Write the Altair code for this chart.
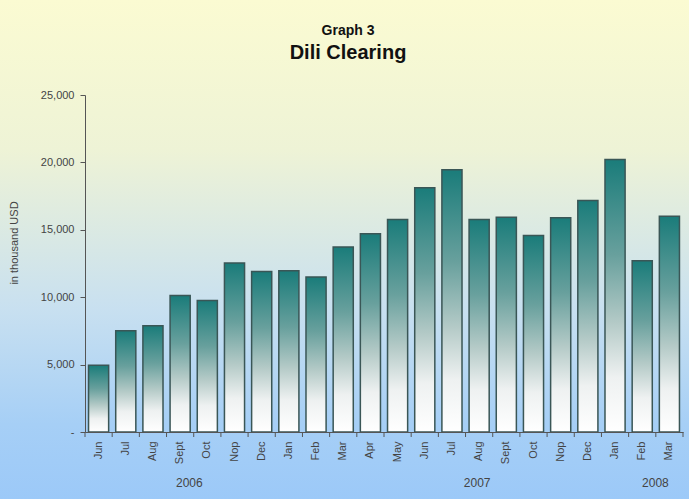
import altair as alt
import pandas as pd

months = ["Jun", "Jul", "Aug", "Sept", "Oct", "Nop", "Dec",
          "Jan", "Feb", "Mar", "Apr", "May", "Jun", "Jul", "Aug", "Sept", "Oct", "Nop", "Dec",
          "Jan", "Feb", "Mar"]
years = [2006] * 7 + [2007] * 12 + [2008] * 3
values = [4950, 7510, 7880, 10130, 9760, 12540, 11900, 11970, 11500, 13730, 14700,
          15760, 18120, 19460, 15760, 15930, 14570, 15890, 17170, 20220, 12710, 16010]

title_text = "Graph 3"
subtitle_text = "Dili Clearing"
y_title = "in thousand USD"

keys = [f"{i:02d} {m}" for i, m in enumerate(months)]
df = pd.DataFrame({"key": keys, "month": months, "year": years, "value": values})

year_labels = ["2006", "2007", "2008"]
year_anchor = [keys[4], keys[14], keys[21]]
year_shift = [-18, -2, -14]

W, H = 598, 337
AX = "#555555"
TXT = "#444444"
FONT = "Liberation Sans"

x_scale = alt.Scale(paddingInner=0, paddingOuter=0)

x_enc = alt.X("key:N", sort="ascending", scale=x_scale,
              axis=alt.Axis(title=None, labelExpr="slice(datum.value, 3)", labelAngle=270,
                            labelAlign="right", labelBaseline="middle", labelPadding=9,
                            ticks=False, labelFontSize=11, labelColor=TXT,
                            domainColor=AX, labelFont=FONT, zindex=1))
y_enc = alt.Y("value:Q", scale=alt.Scale(domain=[0, 25000]),
              axis=alt.Axis(title=None, values=[0, 5000, 10000, 15000, 20000, 25000],
                            labelExpr="datum.value == 0 ? '-' : format(datum.value, ',')",
                            grid=False, tickSize=5, labelPadding=6, labelFontSize=11,
                            labelColor=TXT, labelFont=FONT, domainColor=AX,
                            tickColor=AX, zindex=1))

bg = alt.Chart(alt.Data(values=[{"a": 1}])).mark_rect(
    color=alt.LinearGradient(gradient="linear", x1=0, y1=0, x2=0, y2=1, stops=[
        alt.GradientStop(color="#FBFBD2", offset=0),
        alt.GradientStop(color="#EEF3D6", offset=0.3),
        alt.GradientStop(color="#C8E0F0", offset=0.62),
        alt.GradientStop(color="#A6CFF6", offset=0.85),
        alt.GradientStop(color="#9CC9F8", offset=1),
    ])
).encode(x=alt.value(-85), x2=alt.value(W + 6), y=alt.value(-95), y2=alt.value(H + 67))

bars = alt.Chart(df).mark_bar(
    stroke="#3A5656", strokeWidth=1.5, width={"band": 0.74},
    color=alt.LinearGradient(gradient="linear", x1=0, y1=0, x2=0, y2=1, stops=[
        alt.GradientStop(color="#1A7C7A", offset=0),
        alt.GradientStop(color="#68A09D", offset=0.35),
        alt.GradientStop(color="#B4CAC7", offset=0.6),
        alt.GradientStop(color="#EEF1F1", offset=0.8),
        alt.GradientStop(color="#FFFFFF", offset=1),
    ])
).encode(x=x_enc, y=y_enc)

ticks = alt.Chart(df).mark_rule(color=AX, strokeWidth=1).encode(
    x=alt.X("key:N", sort="ascending", bandPosition=0),
    y=alt.value(H), y2=alt.value(H + 5))
end_tick = alt.Chart(alt.Data(values=[{"a": 1}])).mark_rule(color=AX, strokeWidth=1).encode(
    x=alt.value(W), y=alt.value(H), y2=alt.value(H + 5))

layers = [bg, bars, ticks, end_tick]
for lab, anc, sh in zip(year_labels, year_anchor, year_shift):
    ydf = pd.DataFrame({"key": [anc], "label": [lab]})
    layers.append(
        alt.Chart(ydf).mark_text(fontSize=12, color=TXT, font=FONT, dx=sh)
        .encode(x=alt.X("key:N", sort="ascending"), y=alt.value(H + 51), text="label:N")
    )

t1 = alt.Chart(alt.Data(values=[{"t": title_text}])).mark_text(
    fontSize=14, fontWeight="bold", font=FONT, color="#111111", baseline="middle"
).encode(x=alt.value(263), y=alt.value(-64), text="t:N")
t2 = alt.Chart(alt.Data(values=[{"t": subtitle_text}])).mark_text(
    fontSize=20, fontWeight="bold", font=FONT, color="#111111", baseline="middle"
).encode(x=alt.value(263), y=alt.value(-42), text="t:N")
t3 = alt.Chart(alt.Data(values=[{"t": y_title}])).mark_text(
    fontSize=11, font=FONT, color=TXT, baseline="middle", angle=270
).encode(x=alt.value(-70), y=alt.value(148), text="t:N")
layers += [t1, t2, t3]

chart = alt.layer(*layers).properties(
    width=W, height=H,
    padding=0,
    background="#9CC9F8",
).configure_view(stroke=None)

chart.save("out.html", embed_options={"renderer": "svg", "actions": False})
